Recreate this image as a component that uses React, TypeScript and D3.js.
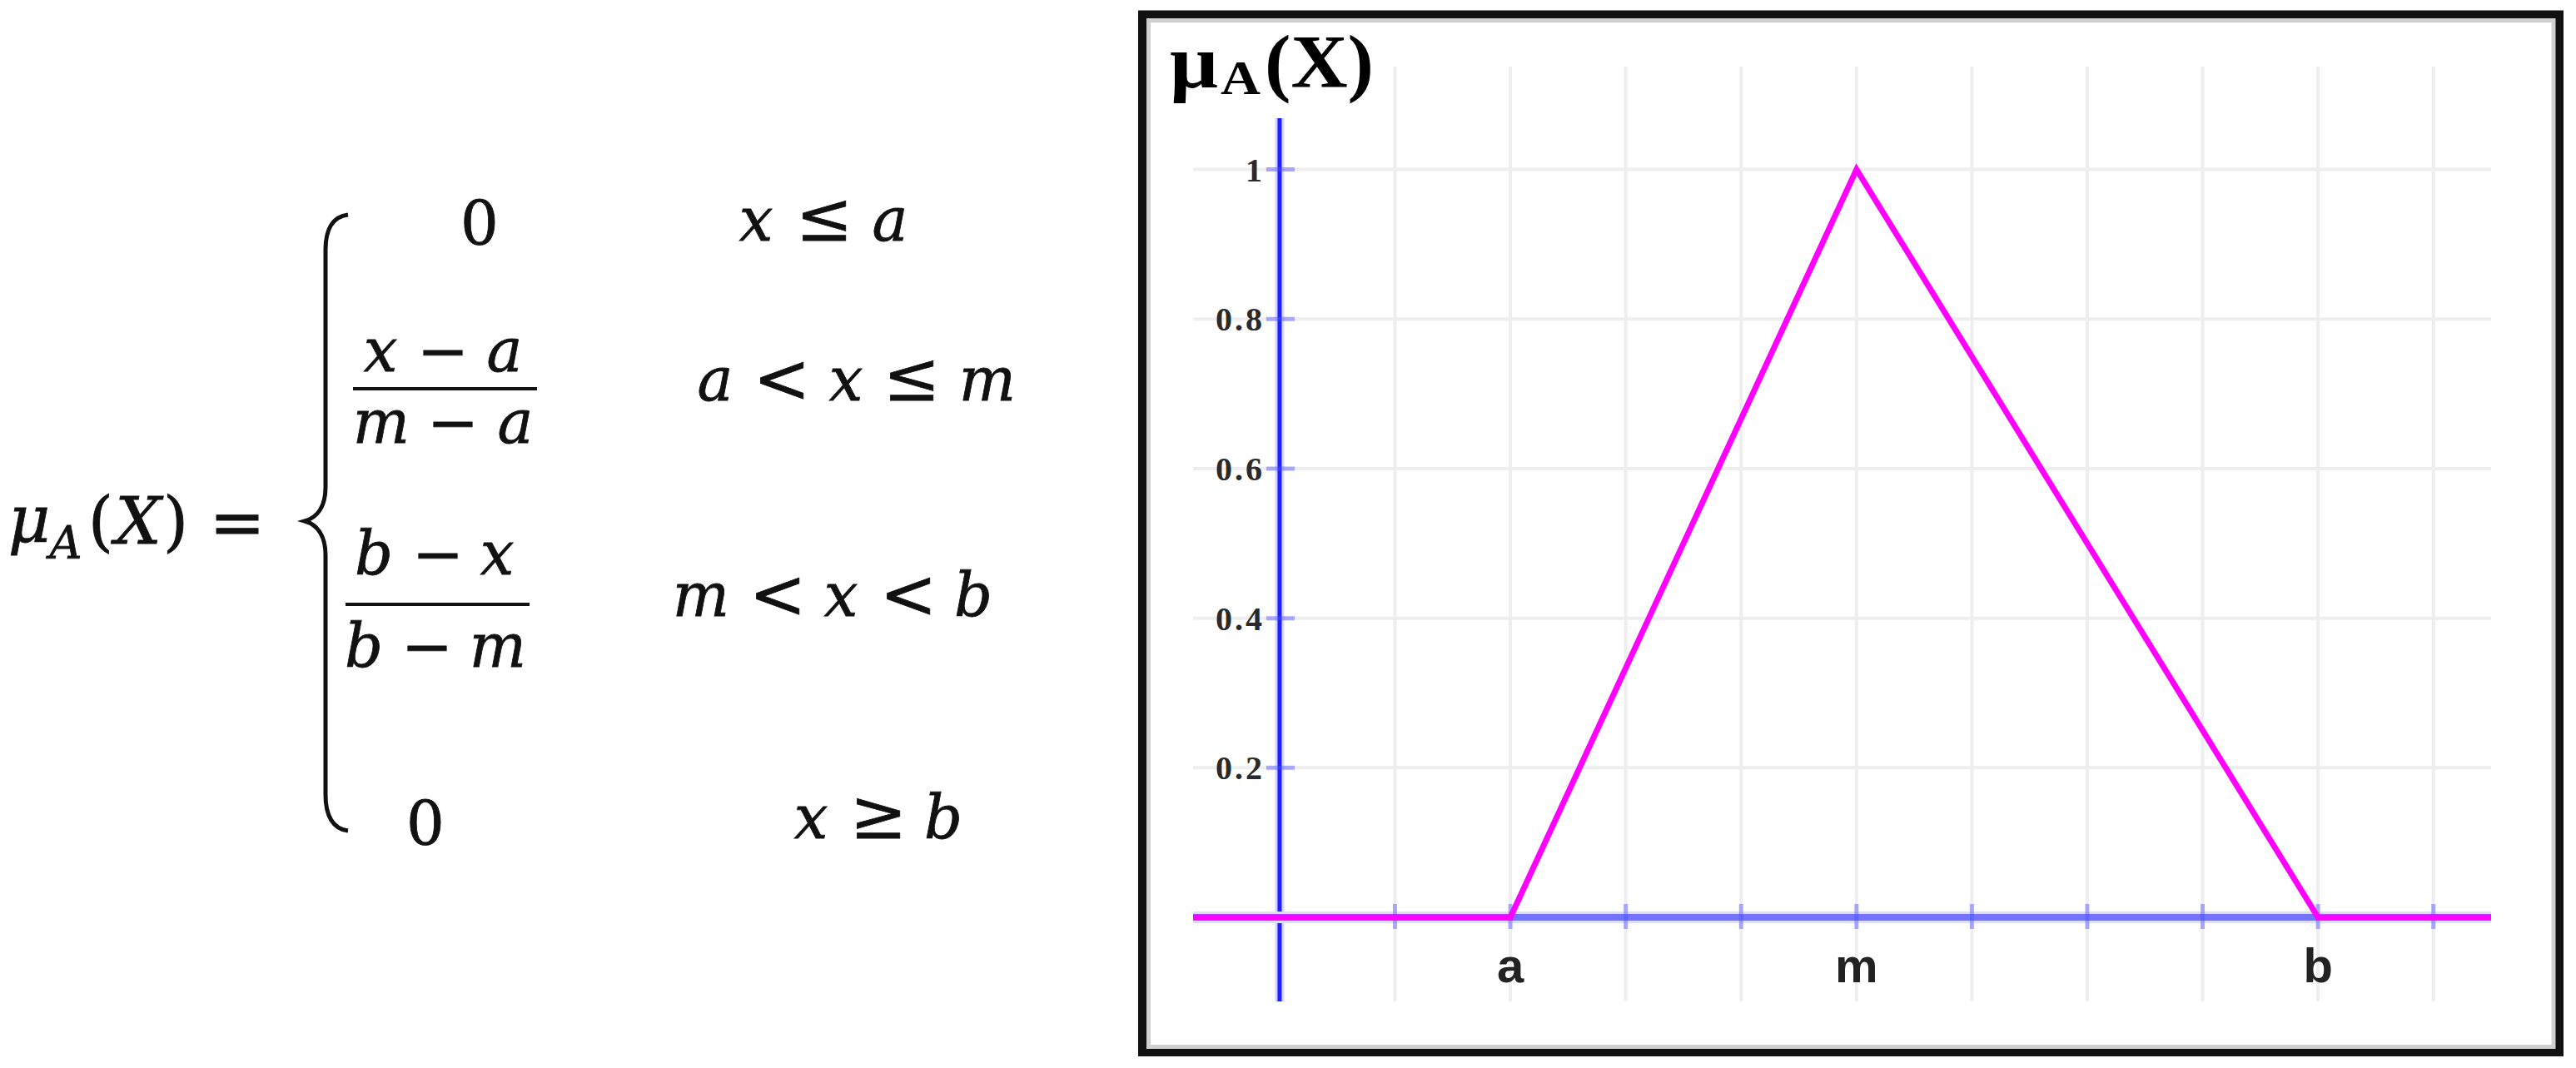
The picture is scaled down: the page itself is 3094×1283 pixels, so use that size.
import React, { useRef, useEffect } from 'react';
import * as d3 from 'd3';

// triangular membership function, breakpoints at a=2, m=5, b=9
const mfX = [-0.75, 2, 5, 9, 10.5];
const mfY = [0, 0, 1, 0, 0];

const xGrid = [1, 2, 3, 4, 5, 6, 7, 8, 9, 10];
const yTicks = [0.2, 0.4, 0.6, 0.8, 1];
const yTickLabels = ['0.2', '0.4', '0.6', '0.8', '1'];
const xLabelNames = ['a', 'm', 'b'];
const xLabelValues = [2, 5, 9];

const App = () => {
  const ref = useRef(null);

  useEffect(() => {
    d3.select(ref.current).selectAll('*').remove();

    const svg = d3.select(ref.current)
      .append('svg')
        .attr('width', 3094)
        .attr('height', 1283)
        .style('position', 'absolute')
        .style('left', 0)
        .style('top', 0)
        .style('background', '#fff');

    // ---- formula on the left ----
    const f = svg.append('g')
      .attr('font-family', '"DejaVu Serif", serif')
      .attr('fill', '#111')
      .attr('stroke', '#111')
      .attr('stroke-width', 0.8);

    const tok = (t, cx, base, italic = true, size = 72) => {
      f.append('text')
        .attr('x', cx)
        .attr('y', base)
        .attr('text-anchor', 'middle')
        .attr('font-size', size)
        .attr('font-style', italic ? 'italic' : 'normal')
        .text(t);
    };
    const rel = (t, cx, base) => tok(t, cx, base, false, 82);
    const minus = (cx, base) => tok('−', cx, base, false, 74);

    tok('μ', 35, 651, true, 78);
    tok('A', 79, 671, true, 54);
    tok('(', 121, 653, false, 78);
    tok('X', 166, 653, true, 78);
    tok(')', 211, 653, false, 78);
    tok('=', 285, 655, false, 80);

    f.append('path')
      .attr('d', 'M418,258 C400,260 391,275 391,300 L391,585 C391,610 380,622 366,626 C380,630 391,642 391,667 L391,955 C391,980 400,996 418,998')
      .attr('fill', 'none')
      .attr('stroke', '#111')
      .attr('stroke-width', 5);

    // row 1
    tok('0', 576, 294, false);
    tok('x', 908, 289); rel('≤', 990, 289); tok('a', 1069, 289);

    // row 2
    tok('x', 457, 446); minus(532, 447); tok('a', 606, 446);
    f.append('line').attr('x1', 424).attr('x2', 645).attr('y1', 467).attr('y2', 467)
      .attr('stroke', '#111').attr('stroke-width', 4);
    tok('m', 458, 532); minus(544, 533); tok('a', 619, 532);
    tok('a', 859, 481); rel('<', 939, 483); tok('x', 1016, 481);
    rel('≤', 1095, 481); tok('m', 1186, 481);

    // row 3
    tok('b', 449, 690); minus(526, 691); tok('x', 597, 690);
    f.append('line').attr('x1', 415).attr('x2', 636).attr('y1', 726).attr('y2', 726)
      .attr('stroke', '#111').attr('stroke-width', 4);
    tok('b', 437, 801); minus(513, 802); tok('m', 598, 801);
    tok('m', 842, 740); rel('<', 934, 742); tok('x', 1010, 740);
    rel('<', 1091, 742); tok('b', 1169, 740);

    // row 4
    tok('0', 511, 1015, false);
    tok('x', 974, 1007); rel('≥', 1055, 1007); tok('b', 1133, 1007);

    // ---- chart on the right ----
    const x = d3.scaleLinear().domain([-0.75, 10.5]).range([1433, 2992]);
    const y = d3.scaleLinear().domain([0, 1]).range([1102, 203.6]);

    // frame
    svg.append('rect')
      .attr('x', 1372).attr('y', 17.5).attr('width', 1702).attr('height', 1246.5)
      .attr('fill', 'none').attr('stroke', '#111').attr('stroke-width', 10);
    svg.append('rect')
      .attr('x', 1379.5).attr('y', 24.5).attr('width', 1687.5).attr('height', 1233)
      .attr('fill', 'none').attr('stroke', '#d0d0d0').attr('stroke-width', 5);

    // grid
    svg.append('g').selectAll('line').data(xGrid).join('line')
      .attr('x1', d => x(d)).attr('x2', d => x(d))
      .attr('y1', y(1.1376)).attr('y2', y(-0.1124))
      .attr('stroke', '#eeeeee').attr('stroke-width', 4);
    svg.append('g').selectAll('line').data(yTicks).join('line')
      .attr('x1', x(-0.75)).attr('x2', x(10.5))
      .attr('y1', d => y(d)).attr('y2', d => y(d))
      .attr('stroke', '#eeeeee').attr('stroke-width', 4);

    // y axis
    svg.append('line')
      .attr('x1', x(0)).attr('x2', x(0)).attr('y1', y(1.0686)).attr('y2', y(-0.1124))
      .attr('stroke', '#d4d4ff').attr('stroke-width', 11);
    svg.append('line')
      .attr('x1', x(0)).attr('x2', x(0)).attr('y1', y(1.0686)).attr('y2', y(-0.1124))
      .attr('stroke', '#1f1fff').attr('stroke-width', 5);

    // x axis
    svg.append('line')
      .attr('x1', x(-0.75)).attr('x2', x(10.5)).attr('y1', y(0)).attr('y2', y(0))
      .attr('stroke', '#dcdcff').attr('stroke-width', 14);
    svg.append('line')
      .attr('x1', x(-0.75)).attr('x2', x(10.5)).attr('y1', y(0)).attr('y2', y(0))
      .attr('stroke', '#7373ff').attr('stroke-width', 8);

    // ticks
    svg.append('g').selectAll('line').data(xGrid).join('line')
      .attr('x1', d => x(d)).attr('x2', d => x(d))
      .attr('y1', y(0) - 16).attr('y2', y(0) + 14)
      .attr('stroke', '#4d4dff').attr('stroke-opacity', 0.45).attr('stroke-width', 5);
    svg.append('g').selectAll('line').data(yTicks).join('line')
      .attr('x1', x(0) - 16).attr('x2', x(0) + 18)
      .attr('y1', d => y(d)).attr('y2', d => y(d))
      .attr('stroke', '#4d4dff').attr('stroke-opacity', 0.45).attr('stroke-width', 5);

    // y tick labels
    svg.append('g').selectAll('text').data(yTicks).join('text')
      .attr('x', 1519)
      .attr('y', d => y(d))
      .attr('dy', '0.35em')
      .attr('text-anchor', 'end')
      .attr('font-family', '"Liberation Serif", serif')
      .attr('font-weight', 'bold')
      .attr('font-size', 40)
      .attr('letter-spacing', 3)
      .attr('fill', '#2a2a2a')
      .text((d, i) => yTickLabels[i]);

    // x labels
    svg.append('g').selectAll('text').data(xLabelValues).join('text')
      .attr('x', d => x(d))
      .attr('y', 1180)
      .attr('text-anchor', 'middle')
      .attr('font-family', '"Liberation Sans", sans-serif')
      .attr('font-weight', 'bold')
      .attr('font-size', 58)
      .attr('fill', '#222')
      .text((d, i) => xLabelNames[i]);

    // membership function
    const line = d3.line()
      .x((d, i) => x(mfX[i]))
      .y(d => y(d));
    svg.append('path')
      .datum(mfY)
      .attr('fill', 'none')
      .attr('stroke', '#ff00ff')
      .attr('stroke-width', 7)
      .attr('d', line);

    // title
    const title = svg.append('g')
      .attr('font-family', '"Liberation Serif", serif')
      .attr('font-weight', 'bold')
      .attr('fill', '#000');
    title.append('text').attr('x', 1405).attr('y', 105).attr('font-size', 90)
      .attr('textLength', 58).attr('lengthAdjust', 'spacingAndGlyphs').text('μ');
    title.append('text').attr('x', 1466).attr('y', 113).attr('font-size', 56)
      .attr('textLength', 48).attr('lengthAdjust', 'spacingAndGlyphs').text('A');
    title.append('text').attr('x', 1519).attr('y', 105).attr('font-size', 90)
      .attr('textLength', 131).attr('lengthAdjust', 'spacingAndGlyphs').text('(X)');
  }, []);

  return (
    <div ref={ref}></div>
  );
};

export default App;
